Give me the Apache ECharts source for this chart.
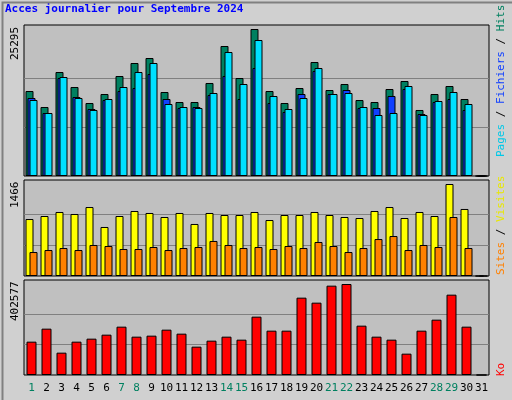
<!DOCTYPE html>
<html>
<head>
<meta charset="utf-8">
<script src="https://cdn.jsdelivr.net/npm/echarts@6/dist/echarts.min.js"></script>
<style>html,body{margin:0;padding:0;background:#d0d0d0}#main{width:512px;height:400px}</style>
</head>
<body>
<div id="main"></div>
<script>
// jours du mois
var days = [];
for (var i = 1; i <= 31; i++) days.push(String(i));
var weekend = ['1', '7', '8', '14', '15', '21', '22', '28', '29'];

var hits = [14626, 11873, 17895, 15314, 12561, 14110, 17207, 19444, 20304, 14454, 12733, 12733, 16003, 22369, 16863, 25295, 14626, 12561, 15142, 19616, 14798, 15830, 13077, 12733, 14970, 16347, 11357, 14110, 15486, 13249, 0];
var pages = [13421, 10840, 16863, 13593, 11529, 13077, 14626, 15142, 17551, 13249, 11701, 11873, 13937, 17207, 13249, 18584, 12561, 11013, 14110, 18067, 14110, 14798, 11701, 11701, 13766, 14970, 10668, 12733, 13249, 11357, 0];
var files = [13077, 10840, 17035, 13421, 11357, 13249, 15314, 17895, 19444, 12389, 11873, 11701, 14282, 21337, 15830, 23402, 13765, 11529, 13421, 18584, 14110, 14282, 11873, 10496, 10840, 15486, 10496, 12905, 14454, 12389, 0];
var visits = [908, 956, 1020, 988, 1099, 781, 956, 1036, 1004, 940, 1004, 829, 1004, 972, 972, 1020, 892, 972, 972, 1020, 972, 940, 924, 1036, 1099, 924, 1020, 956, 1466, 1068, 0];
var sites = [382, 414, 446, 414, 494, 478, 430, 430, 462, 414, 446, 462, 558, 494, 446, 462, 430, 478, 446, 542, 478, 382, 446, 589, 637, 414, 494, 462, 940, 446, 0];
var kb = [147460, 204969, 98798, 147460, 160731, 178427, 213817, 169579, 174003, 200546, 182850, 125341, 151884, 169579, 156308, 258055, 196122, 196122, 342107, 319988, 395193, 402577, 218241, 169579, 156308, 94374, 196122, 244784, 355379, 213817, 0];
var maxLabels = ['25295', '1466', '402577'];

var mono = 'DejaVu Sans Mono';
var grids = [
  { left: 24, width: 465, top: 25, height: 151 },
  { left: 24, width: 465, top: 180, height: 96 },
  { left: 24, width: 465, top: 280, height: 95 }
];
var maxes = [25295 * 151 / 147, 1466 * 96 / 92, 402577 * 95 / 91];
var tops = [25295, 1466, 402577];

function xAxis(idx, show) {
  return {
    type: 'category', gridIndex: idx, data: days,
    axisLine: { show: false }, axisTick: { show: false }, splitLine: { show: false },
    axisLabel: {
      show: show, margin: 8, fontFamily: mono, fontSize: 11, interval: 0,
      color: function (v) { return weekend.indexOf(v) >= 0 ? '#008060' : '#000000'; }
    }
  };
}
function yAxis(idx) {
  return {
    type: 'value', gridIndex: idx, min: 0, max: maxes[idx],
    axisLine: { show: false }, axisTick: { show: false }, axisLabel: { show: false }, splitLine: { show: false }
  };
}
// lignes de repere derriere les barres (serie vide)
function guides(idx) {
  return {
    type: 'line', xAxisIndex: idx, yAxisIndex: idx, data: [], z: 1,
    markLine: {
      silent: true, symbol: 'none', label: { show: false }, animation: false,
      lineStyle: { color: '#808080', type: 'solid', width: 1 },
      data: [{ yAxis: tops[idx] / 3 }, { yAxis: tops[idx] * 2 / 3 }]
    }
  };
}
var border = { borderColor: '#000', borderWidth: 1 };

var chart = echarts.init(document.getElementById('main'));
var option = {
  backgroundColor: '#d0d0d0',
  animation: false,
  grid: grids.map(function (g) {
    return Object.assign({ show: true, backgroundColor: '#c0c0c0', borderColor: '#000', borderWidth: 1 }, g);
  }),
  xAxis: [xAxis(0, false), xAxis(1, false), xAxis(2, true)],
  yAxis: [yAxis(0), yAxis(1), yAxis(2)],
  series: [
    guides(0), guides(1), guides(2),
    { type: 'bar', z: 5, xAxisIndex: 0, yAxisIndex: 0, data: hits, barWidth: 8, barGap: '-75%', itemStyle: Object.assign({ color: '#008060' }, border) },
    { type: 'bar', z: 5, xAxisIndex: 0, yAxisIndex: 0, data: pages, barWidth: 8, barGap: '-75%', itemStyle: Object.assign({ color: '#1040ff' }, border) },
    { type: 'bar', z: 5, xAxisIndex: 0, yAxisIndex: 0, data: files, barWidth: 8, barGap: '-75%', itemStyle: Object.assign({ color: '#00e0ff' }, border) },
    { type: 'bar', z: 5, xAxisIndex: 1, yAxisIndex: 1, data: visits, barWidth: 8, barGap: '-50%', itemStyle: Object.assign({ color: '#ffff00' }, border) },
    { type: 'bar', z: 5, xAxisIndex: 1, yAxisIndex: 1, data: sites, barWidth: 8, barGap: '-50%', itemStyle: Object.assign({ color: '#ff8000' }, border) },
    { type: 'bar', z: 5, xAxisIndex: 2, yAxisIndex: 2, data: kb, barWidth: 10, itemStyle: Object.assign({ color: '#ff0000' }, border) }
  ],
  graphic: [
    { type: 'rect', left: 0, top: 0, shape: { width: 511, height: 399 }, style: { fill: 'none', stroke: '#808080', lineWidth: 2 }, z: 100 },
    { type: 'text', left: 5, top: 4, style: { text: 'Acces journalier pour Septembre 2024', font: 'bold 11px "DejaVu Sans Mono"', fill: '#0000ff' } },
    { type: 'text', x: 10, y: 60, rotation: Math.PI / 2, style: { text: maxLabels[0], font: '11px "DejaVu Sans Mono"', fill: '#000' } },
    { type: 'text', x: 10, y: 208, rotation: Math.PI / 2, style: { text: maxLabels[1], font: '11px "DejaVu Sans Mono"', fill: '#000' } },
    { type: 'text', x: 10, y: 321, rotation: Math.PI / 2, style: { text: maxLabels[2], font: '11px "DejaVu Sans Mono"', fill: '#000' } },
    { type: 'text', x: 496, y: 157, rotation: Math.PI / 2, style: {
      text: '{a|Pages}{s| / }{b|Fichiers}{s| / }{c|Hits}',
      rich: {
        a: { fill: '#00c8e8', font: '11px "DejaVu Sans Mono"' },
        b: { fill: '#1040ff', font: '11px "DejaVu Sans Mono"' },
        c: { fill: '#008060', font: '11px "DejaVu Sans Mono"' },
        s: { fill: '#000', font: '11px "DejaVu Sans Mono"' }
      } } },
    { type: 'text', x: 496, y: 275, rotation: Math.PI / 2, style: {
      text: '{a|Sites}{s| / }{b|Visites}',
      rich: {
        a: { fill: '#ff8000', font: '11px "DejaVu Sans Mono"' },
        b: { fill: '#e8e800', font: '11px "DejaVu Sans Mono"' },
        s: { fill: '#000', font: '11px "DejaVu Sans Mono"' }
      } } },
    { type: 'text', x: 496, y: 376, rotation: Math.PI / 2, style: { text: 'Ko', font: '11px "DejaVu Sans Mono"', fill: '#ff0000' } }
  ]
};
chart.setOption(option);
</script>
</body>
</html>
